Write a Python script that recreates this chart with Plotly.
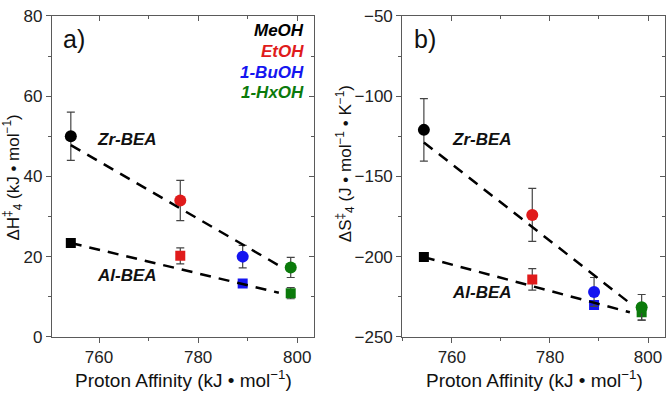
import plotly.graph_objects as go

# ---------------- data ----------------
solvents = ["MeOH", "EtOH", "1-BuOH", "1-HxOH"]
colors = ["#000000", "#E01B1B", "#1515F0", "#0B7A0B"]
proton_affinity = [754.3, 776.4, 789.0, 798.7]

# panel a) activation enthalpy (kJ/mol)
dH_zr = [50.0, 34.0, 20.0, 17.3]
dH_zr_err = [6.0, 5.0, 2.8, 2.5]
dH_al = [23.4, 20.2, 13.3, 10.9]
dH_al_err = [0.5, 2.0, 0.5, 1.4]

# panel b) activation entropy (J/mol/K)
dS_zr = [-121.0, -174.0, -222.0, -231.6]
dS_zr_err = [19.5, 16.5, 9.0, 8.0]
dS_al = [-200.3, -214.2, -230.2, -234.6]
dS_al_err = [1.0, 6.7, 1.0, 5.0]

# linear fit lines (end points)
fit_x = [754.3, 796.3]
fitH_zr = [47.8, 17.8]
fitH_al = [23.4, 11.0]
fitS_zr = [-128.8, -229.0]
fitS_al = [-200.3, -234.7]

FONT = "Liberation Sans, Arial, sans-serif"
W, H = 666, 398

fig = go.Figure()


def add_panel(xa, ya, zr, zr_err, al, al_err, fzr, fal):
    # squares (Al-BEA)
    for i in range(4):
        fig.add_trace(go.Scatter(
            x=[proton_affinity[i]], y=[al[i]], mode="markers",
            marker=dict(symbol="square", size=10, color=colors[i], line=dict(width=0)),
            error_y=dict(type="data", array=[al_err[i]], color="#444444", thickness=1.2, width=4),
            xaxis=xa, yaxis=ya, showlegend=False, hoverinfo="skip"))
    # circles (Zr-BEA)
    for i in range(4):
        fig.add_trace(go.Scatter(
            x=[proton_affinity[i]], y=[zr[i]], mode="markers",
            marker=dict(symbol="circle", size=12, color=colors[i], line=dict(width=0)),
            error_y=dict(type="data", array=[zr_err[i]], color="#444444", thickness=1.2, width=4),
            xaxis=xa, yaxis=ya, showlegend=False, hoverinfo="skip"))
    for fy in (fzr, fal):
        fig.add_trace(go.Scatter(
            x=fit_x, y=fy, mode="lines",
            line=dict(color="black", width=2.5, dash="11px,8px"),
            xaxis=xa, yaxis=ya, showlegend=False, hoverinfo="skip"))


add_panel("x", "y", dH_zr, dH_zr_err, dH_al, dH_al_err, fitH_zr, fitH_al)
add_panel("x2", "y2", dS_zr, dS_zr_err, dS_al, dS_al_err, fitS_zr, fitS_al)

# invisible traces so the mirror-tick axes render
for xa, ya in (("x3", "y"), ("x", "y3"), ("x4", "y2"), ("x2", "y4")):
    fig.add_trace(go.Scatter(x=[None], y=[None], xaxis=xa, yaxis=ya,
                             showlegend=False, hoverinfo="skip"))

dom_a = [52 / W, 314 / W]
dom_b = [402.3 / W, 664.7 / W]
dom_y = [1 - 344.3 / H, 1 - 7.3 / H]
xr_a = [750.5, 803.4]
xr_b = [749.9, 803.4]
yr_a = [0, 80]
yr_b = [-250, -50]

AX = "#5a5a5a"
tickfont = dict(family=FONT, size=17, color="#222222")


def main_x(dom, rng, anchor):
    return dict(domain=dom, range=rng, anchor=anchor, showgrid=False, zeroline=False,
                showline=True, linecolor=AX, linewidth=1.2, mirror=True,
                ticks="outside", ticklen=5, tickcolor=AX, tickwidth=1.2,
                tickvals=[760, 780, 800], tickfont=tickfont, ticklabeloverflow="allow",
                minor=dict(ticks="outside", ticklen=3, tickcolor=AX, dtick=10, tick0=760, showgrid=False))


def main_y(rng, anchor, dtick, minor):
    return dict(domain=dom_y, range=rng, anchor=anchor, showgrid=False, zeroline=False,
                showline=True, linecolor=AX, linewidth=1.2, mirror=True,
                ticks="outside", ticklen=5, tickcolor=AX, tickwidth=1.2,
                dtick=dtick, tick0=rng[0], tickfont=tickfont, ticklabeloverflow="allow",
                minor=dict(ticks="outside", ticklen=3, tickcolor=AX, dtick=minor, tick0=rng[0], showgrid=False))


def mirror_x(dom, rng, over, anchor):
    return dict(domain=dom, range=rng, overlaying=over, anchor=anchor, side="top",
                showgrid=False, zeroline=False, showline=False, showticklabels=False,
                ticks="inside", ticklen=5, tickcolor=AX, tickwidth=1.2, tickvals=[760, 780, 800],
                minor=dict(ticks="inside", ticklen=3, tickcolor=AX, dtick=10, tick0=760, showgrid=False))


def mirror_y(rng, over, anchor, dtick, minor):
    return dict(domain=dom_y, range=rng, overlaying=over, anchor=anchor, side="right",
                showgrid=False, zeroline=False, showline=False, showticklabels=False,
                ticks="inside", ticklen=5, tickcolor=AX, tickwidth=1.2, dtick=dtick, tick0=rng[0],
                minor=dict(ticks="inside", ticklen=3, tickcolor=AX, dtick=minor, tick0=rng[0], showgrid=False))


fig.update_layout(
    width=W, height=H, margin=dict(l=0, r=0, t=0, b=0),
    paper_bgcolor="white", plot_bgcolor="white", showlegend=False,
    font=dict(family=FONT, color="#222222"),
    xaxis=main_x(dom_a, xr_a, "y"),
    yaxis=main_y(yr_a, "x", 20, 10),
    xaxis2=main_x(dom_b, xr_b, "y2"),
    yaxis2=main_y(yr_b, "x2", 50, 25),
    xaxis3=mirror_x(dom_a, xr_a, "x", "y"),
    yaxis3=mirror_y(yr_a, "y", "x", 20, 10),
    xaxis4=mirror_x(dom_b, xr_b, "x2", "y2"),
    yaxis4=mirror_y(yr_b, "y2", "x2", 50, 25),
)


def ann(px, py, text, size, color="#111111", xanchor="center", angle=0, bold_italic=False):
    if bold_italic:
        text = "<b><i>" + text + "</i></b>"
    fig.add_annotation(x=px / W, y=1 - py / H, xref="paper", yref="paper", text=text,
                       showarrow=False, xanchor=xanchor, yanchor="middle", textangle=angle,
                       font=dict(family=FONT, size=size, color=color))


# panel labels
ann(74, 32, "a)", 25)
ann(425, 32, "b)", 25)

# solvent legend (text)
for i, s in enumerate(solvents):
    ann(306, 23 + i * 21.7, s, 17, color=colors[i], xanchor="right", bold_italic=True)

# catalyst labels
ann(127, 137, "Zr-BEA", 17, bold_italic=True)
ann(127, 280, "Al-BEA", 17, bold_italic=True)
ann(482, 137, "Zr-BEA", 17, bold_italic=True)
ann(482, 298, "Al-BEA", 17, bold_italic=True)

# axis titles
xt = "Proton Affinity (kJ • mol<sup>−1</sup>)"
ann(183.5, 389, xt, 19)
ann(534.5, 389, xt, 19)
ann(13, 177, "ΔH<sup>‡</sup><sub>4</sub> (kJ • mol<sup>−1</sup>)", 17, angle=-90)
ann(345, 163, "ΔS<sup>‡</sup><sub>4</sub> (J • mol<sup>−1</sup> • K<sup>−1</sup>)", 17, angle=-90)

fig.write_html("out.html")
